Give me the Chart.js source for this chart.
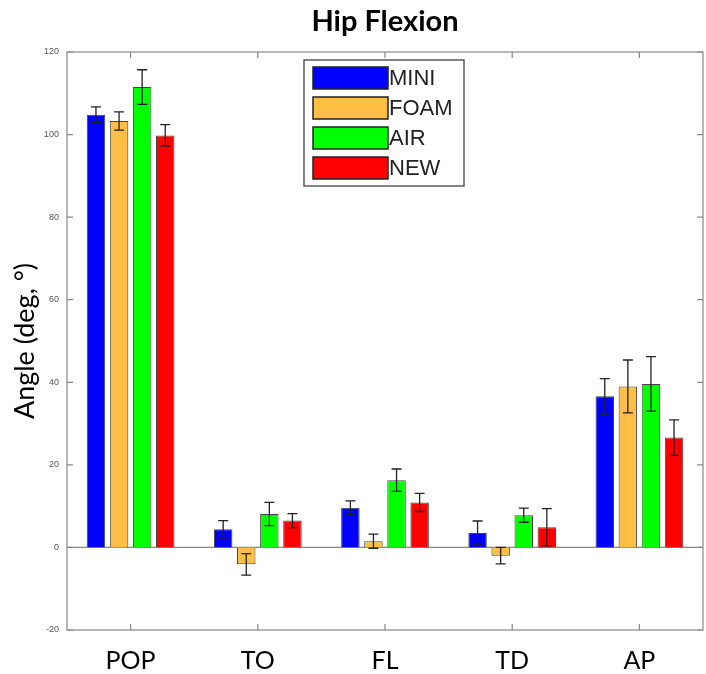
<!DOCTYPE html>
<html>
<head>
<meta charset="utf-8">
<script src="https://cdn.jsdelivr.net/npm/chart.js@4"></script>
<style>
  html, body { margin: 0; padding: 0; background: #fff; }
  #wrap { width: 706px; height: 674px; }
</style>
</head>
<body>
<div id="wrap"><canvas id="chartHip"></canvas></div>
<script>
// data
const labels = ["POP", "TO", "FL", "TD", "AP"];
const seriesNames = ["MINI", "FOAM", "AIR", "NEW"];
const dataMini = [104.8, 4.4, 9.6, 3.5, 36.6];
const dataFoam = [103.3, -4.1, 1.5, -2.0, 39.0];
const dataAir  = [111.5, 8.1, 16.3, 7.8, 39.6];
const dataNew  = [99.8, 6.5, 10.9, 4.9, 26.6];
const errMini = [1.9, 2.1, 1.7, 2.9, 4.3];
const errFoam = [2.2, 2.6, 1.7, 2.0, 6.4];
const errAir  = [4.2, 2.8, 2.7, 1.7, 6.6];
const errNew  = [2.6, 1.7, 2.2, 4.5, 4.3];
const yTicks = [-20, 0, 20, 40, 60, 80, 100, 120];

const colours = ["#0000ff", "#ffbe45", "#00ff00", "#ff0000"];
const seriesData = [dataMini, dataFoam, dataAir, dataNew];
const seriesErr = [errMini, errFoam, errAir, errNew];

// box, ticks, zero line, error bars and legend (MATLAB look)
const matlabLook = {
  id: "matlabLook",
  beforeDatasetsDraw(chart) {
    const { ctx, chartArea: a, scales: { y } } = chart;
    const y0 = y.getPixelForValue(0);
    ctx.save();
    ctx.strokeStyle = "#888";
    ctx.lineWidth = 1.2;
    ctx.beginPath();
    ctx.moveTo(a.left, y0);
    ctx.lineTo(a.right, y0);
    ctx.stroke();
    ctx.restore();
  },
  afterDatasetsDraw(chart) {
    const { ctx, scales: { y } } = chart;
    ctx.save();
    ctx.strokeStyle = "#222";
    ctx.lineWidth = 1.3;
    chart.data.datasets.forEach((ds, i) => {
      chart.getDatasetMeta(i).data.forEach((bar, j) => {
        const v = ds.data[j], e = seriesErr[i][j];
        const top = y.getPixelForValue(v + e);
        const bot = y.getPixelForValue(v - e);
        ctx.beginPath();
        ctx.moveTo(bar.x, top); ctx.lineTo(bar.x, bot);
        ctx.moveTo(bar.x - 5, top); ctx.lineTo(bar.x + 5, top);
        ctx.moveTo(bar.x - 5, bot); ctx.lineTo(bar.x + 5, bot);
        ctx.stroke();
      });
    });
    ctx.restore();
  },
  afterDraw(chart) {
    const { ctx, chartArea: a, scales: { x, y } } = chart;
    ctx.save();
    ctx.strokeStyle = "#888";
    ctx.lineWidth = 1.2;
    ctx.strokeRect(a.left, a.top, a.right - a.left, a.bottom - a.top);
    ctx.beginPath();
    yTicks.forEach(t => {
      const py = y.getPixelForValue(t);
      ctx.moveTo(a.left, py); ctx.lineTo(a.left + 6, py);
      ctx.moveTo(a.right, py); ctx.lineTo(a.right - 6, py);
    });
    labels.forEach((l, i) => {
      const px = x.getPixelForValue(i);
      ctx.moveTo(px, a.bottom); ctx.lineTo(px, a.bottom - 6);
      ctx.moveTo(px, a.top); ctx.lineTo(px, a.top + 6);
    });
    ctx.stroke();

    // legend
    const lx = 304, ly = 60;
    ctx.fillStyle = "#fff";
    ctx.fillRect(lx, ly, 160, 126);
    ctx.strokeStyle = "#333";
    ctx.lineWidth = 1.2;
    ctx.strokeRect(lx, ly, 160, 126);
    ctx.font = "22px 'Liberation Sans', Arial, sans-serif";
    ctx.textBaseline = "middle";
    chart.data.datasets.forEach((ds, i) => {
      const sy = ly + 7 + i * 30;
      ctx.fillStyle = ds.backgroundColor;
      ctx.fillRect(lx + 9, sy, 75, 22);
      ctx.strokeStyle = "#222";
      ctx.lineWidth = 1.5;
      ctx.strokeRect(lx + 9, sy, 75, 22);
      ctx.fillStyle = "#222";
      ctx.fillText(ds.label, lx + 85, sy + 12);
    });
    ctx.restore();
  }
};

new Chart(document.getElementById("chartHip"), {
  type: "bar",
  data: {
    labels: labels,
    datasets: seriesNames.map((name, i) => ({
      label: name,
      data: seriesData[i],
      backgroundColor: colours[i],
      borderColor: "#444",
      borderWidth: 1,
      categoryPercentage: 0.726,
      barPercentage: 0.8,
    })),
  },
  options: {
    responsive: true,
    maintainAspectRatio: false,
    animation: false,
    layout: { padding: { left: 0, right: 3, top: 0, bottom: 0 } },
    plugins: {
      legend: { display: false },
      tooltip: { enabled: false },
      title: {
        display: true,
        text: "Hip Flexion",
        fullSize: false,
        color: "#000",
        font: { family: "Lato, 'Open Sans', sans-serif", size: 29, weight: "bold", lineHeight: 1.2 },
        padding: { top: 4, bottom: 13.2 },
      },
    },
    scales: {
      x: {
        grid: { display: false, drawTicks: false },
        border: { display: false },
        ticks: {
          color: "#000",
          padding: 16,
          font: { family: "Lato, 'Open Sans', sans-serif", size: 25 },
        },
        afterFit(scale) { scale.height = 44; },
      },
      y: {
        min: -20,
        max: 120,
        grid: { display: false, drawTicks: false },
        border: { display: false },
        ticks: {
          stepSize: 20,
          color: "#555",
          padding: 8,
          font: { family: "'Liberation Sans', Arial, sans-serif", size: 9 },
        },
        title: {
          display: true,
          text: "Angle (deg, °)",
          color: "#000",
          padding: { top: 9, bottom: 0 },
          font: { family: "Lato, 'Open Sans', sans-serif", size: 27, lineHeight: 1.2 },
        },
        afterFit(scale) { scale.width = 67; },
      },
    },
  },
  plugins: [matlabLook],
});
</script>
</body>
</html>
